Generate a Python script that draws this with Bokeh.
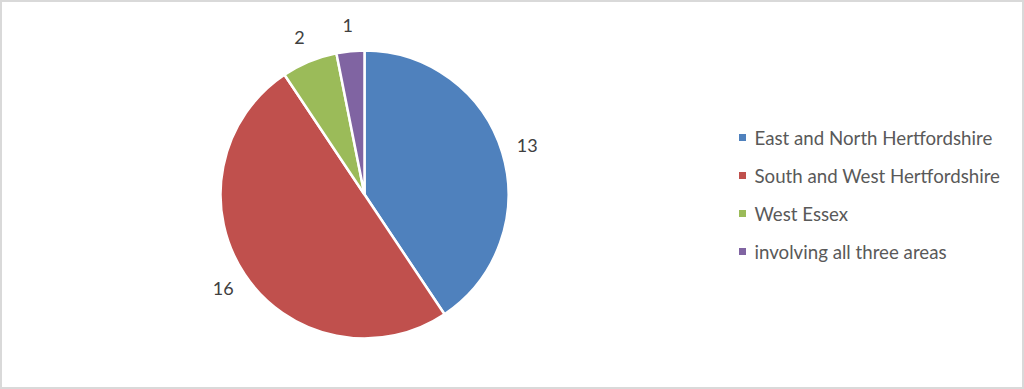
import math
from bokeh.plotting import figure
from bokeh.models import ColumnDataSource
from bokeh.core.properties import value
from bokeh.embed import file_html
from bokeh.resources import INLINE

categories = ["East and North Hertfordshire", "South and West Hertfordshire", "West Essex", "involving all three areas"]
counts = [13, 16, 2, 1]
colors = ["#4f81bd", "#c0504d", "#9bbb59", "#8064a2"]

W, H = 1024, 389
cx, cy, R = 364, H - 194, 144
label_r = 170

total = sum(counts)
starts, ends, lx, ly, labels = [], [], [], [], []
cum = 0
for c in counts:
    a0 = math.pi / 2 - 2 * math.pi * cum / total
    a1 = math.pi / 2 - 2 * math.pi * (cum + c) / total
    starts.append(a0)
    ends.append(a1)
    mid = (a0 + a1) / 2
    lx.append(cx + label_r * math.cos(mid))
    ly.append(cy + label_r * math.sin(mid))
    labels.append(str(c))
    cum += c

p = figure(width=W, height=H, x_range=(0, W), y_range=(0, H),
           output_backend="svg", toolbar_location=None, min_border=0)
p.axis.visible = False
p.grid.visible = False
p.outline_line_color = "#d9d9d9"
p.outline_line_width = 3
p.background_fill_color = "white"
p.border_fill_color = "white"

src = ColumnDataSource(dict(start=starts, end=ends, color=colors))
p.wedge(x=cx, y=cy, radius=R, radius_units="screen", start_angle="start", end_angle="end",
        direction="clock", fill_color="color", line_color="white", line_width=2.5, source=src)

p.text(x=lx, y=ly, text=labels, text_font=value("Lato"), text_font_size="18px",
       text_color="#404040", text_align="center", text_baseline="middle")

leg_x = 742
leg_y0 = H - 137
step = 38
ly2 = [leg_y0 - i * step for i in range(len(categories))]
p.scatter(x=[leg_x] * len(categories), y=ly2, marker="square", size=7,
          fill_color=colors, line_color=None)
p.text(x=[leg_x + 12] * len(categories), y=ly2, text=categories, text_font=value("Lato"),
       text_font_size="18.7px", text_color="#595959", text_align="left", text_baseline="middle")

open("out.html", "w").write(file_html(p, INLINE))
